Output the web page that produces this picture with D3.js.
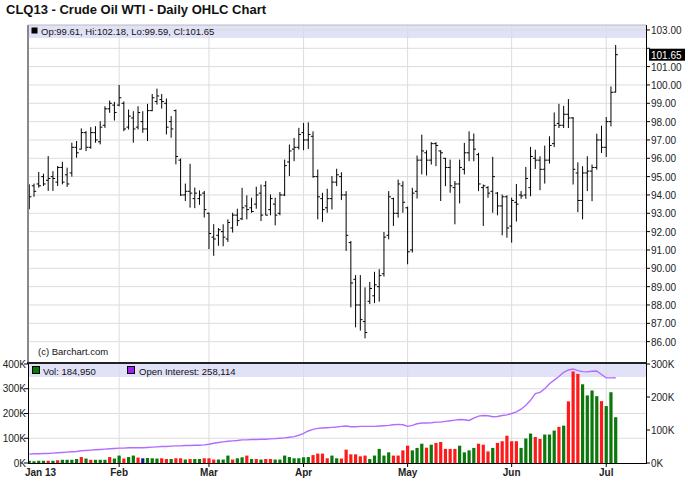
<!DOCTYPE html>
<html><head><meta charset="utf-8">
<script src="https://cdn.jsdelivr.net/npm/d3@7"></script>
<style>body{margin:0;background:#fff;} svg{display:block;font-family:"Liberation Sans",Arial,sans-serif;}</style>
</head><body><svg id="c" width="688" height="503"></svg>
<script>
// ---------- DATA ----------
const dates = [
"2013-01-04","2013-01-07","2013-01-08","2013-01-09","2013-01-10","2013-01-11","2013-01-14","2013-01-15","2013-01-16","2013-01-17","2013-01-18","2013-01-22","2013-01-23","2013-01-24","2013-01-25","2013-01-28","2013-01-29","2013-01-30","2013-01-31",
"2013-02-01","2013-02-04","2013-02-05","2013-02-06","2013-02-07","2013-02-08","2013-02-11","2013-02-12","2013-02-13","2013-02-14","2013-02-15","2013-02-19","2013-02-20","2013-02-21","2013-02-22","2013-02-25","2013-02-26","2013-02-27","2013-02-28",
"2013-03-01","2013-03-04","2013-03-05","2013-03-06","2013-03-07","2013-03-08","2013-03-11","2013-03-12","2013-03-13","2013-03-14","2013-03-15","2013-03-18","2013-03-19","2013-03-20","2013-03-21","2013-03-22","2013-03-25","2013-03-26","2013-03-27","2013-03-28",
"2013-04-01","2013-04-02","2013-04-03","2013-04-04","2013-04-05","2013-04-08","2013-04-09","2013-04-10","2013-04-11","2013-04-12","2013-04-15","2013-04-16","2013-04-17","2013-04-18","2013-04-19","2013-04-22","2013-04-23","2013-04-24","2013-04-25","2013-04-26","2013-04-29","2013-04-30",
"2013-05-01","2013-05-02","2013-05-03","2013-05-06","2013-05-07","2013-05-08","2013-05-09","2013-05-10","2013-05-13","2013-05-14","2013-05-15","2013-05-16","2013-05-17","2013-05-20","2013-05-21","2013-05-22","2013-05-23","2013-05-24","2013-05-28","2013-05-29","2013-05-30","2013-05-31",
"2013-06-03","2013-06-04","2013-06-05","2013-06-06","2013-06-07","2013-06-10","2013-06-11","2013-06-12","2013-06-13","2013-06-14","2013-06-17","2013-06-18","2013-06-19","2013-06-20","2013-06-21","2013-06-24","2013-06-25","2013-06-26","2013-06-27","2013-06-28",
"2013-07-01","2013-07-02","2013-07-03"];

const openP = [
93.4,94.5,94.6,95.0,94.8,95.0,94.7,95.5,95.1,95.2,
96.6,96.5,97.4,96.6,97.4,96.9,97.8,98.7,98.9,98.9,
99.0,97.7,98.2,97.7,98.0,97.6,98.6,99.1,99.2,99.0,
98.0,98.6,95.9,94.0,94.2,93.8,93.8,94.1,93.0,91.7,
91.8,92.0,91.6,92.2,92.9,92.7,93.4,93.3,93.5,94.1,
94.5,93.2,93.5,93.0,94.0,95.8,96.5,96.6,97.4,97.0,
97.2,95.0,93.8,93.3,93.8,94.7,95.0,94.0,91.4,89.4,
88.0,87.1,88.2,88.5,89.0,89.7,91.8,93.8,93.0,94.5,
93.3,91.0,94.2,95.9,96.3,95.9,96.8,96.4,96.0,95.5,
94.4,94.6,95.4,96.3,97.0,96.2,94.4,94.4,94.2,94.1,
93.4,93.9,92.3,93.6,94.0,94.0,94.4,96.0,95.9,95.4,
95.9,96.8,97.9,97.8,98.4,98.2,95.2,93.7,95.2,95.3,
95.5,97.0,96.6,98.0,99.61];
const highP = [
94.58,94.62,95.25,95.16,96.12,95.3,95.58,95.81,95.49,96.85,
96.94,97.63,97.48,97.7,97.75,98.02,98.84,99.15,99.08,100.0,
99.1,98.66,98.57,98.84,98.57,98.97,99.51,99.8,99.51,99.26,
98.3,98.66,95.99,94.62,95.7,94.4,94.25,94.22,93.04,92.41,
92.19,92.4,92.67,93.03,93.25,94.39,93.98,93.85,94.45,94.57,
94.76,94.03,93.85,94.16,95.93,96.75,97.11,97.66,97.93,97.96,
97.47,95.39,94.12,94.34,95.03,95.43,95.24,94.21,91.49,89.63,
89.63,88.96,89.26,89.81,89.95,91.98,94.21,93.85,94.84,94.75,
93.36,94.39,96.15,97.29,96.44,96.88,96.88,96.44,96.02,95.93,
94.76,95.93,96.84,97.47,97.35,96.3,94.57,94.48,96.08,94.16,
94.03,93.98,93.85,94.6,94.21,95.53,96.62,96.47,96.11,96.69,
97.2,98.5,98.97,98.86,99.23,98.25,95.78,95.57,96.11,95.66,
97.34,97.78,98.25,99.92,102.18];
const lowP = [
93.22,93.9,94.4,94.49,94.22,94.22,94.49,94.58,94.44,95.0,
96.03,96.48,96.39,96.52,96.85,96.76,97.66,98.48,98.06,98.84,
97.48,97.57,96.85,97.57,97.39,96.94,98.57,98.93,98.71,97.3,
97.12,95.67,93.95,93.67,93.31,93.28,93.46,92.77,91.05,90.68,
91.23,91.2,91.44,91.95,92.31,92.63,92.67,93.03,93.25,92.58,
92.89,92.89,92.34,92.89,93.94,95.03,95.84,96.48,96.44,96.51,
94.94,92.67,92.53,93.03,93.21,94.48,93.72,90.95,87.87,86.78,
86.6,86.18,88.05,88.1,88.18,89.55,91.58,92.31,92.76,93.03,
90.22,90.86,93.8,95.12,95.06,95.66,95.57,93.67,94.48,94.12,
92.4,93.54,95.12,95.84,95.84,94.21,92.31,93.85,93.03,92.89,
91.8,91.67,91.4,92.55,93.79,93.79,93.93,95.42,94.26,94.62,
95.71,96.62,97.65,97.65,97.65,94.57,93.06,92.67,94.21,93.66,
95.38,96.29,96.07,97.74,99.59];
const closeP = [
93.9,94.2,94.5,94.6,94.9,94.9,95.5,94.7,94.6,96.6,
96.3,97.4,96.6,97.4,97.0,97.7,98.7,99.0,98.5,99.3,
97.6,98.3,97.6,98.5,97.6,98.6,99.3,99.4,99.1,97.7,
97.6,96.1,94.0,94.2,94.1,94.1,94.0,93.2,91.9,91.6,
92.1,91.7,92.5,92.9,92.6,93.3,93.2,93.1,94.0,92.9,
92.9,93.8,92.9,94.0,95.6,96.4,96.6,97.3,97.0,97.3,
95.0,93.9,93.2,93.8,94.7,95.1,94.0,91.8,89.2,88.0,
87.2,86.5,88.9,89.1,89.6,91.7,93.9,93.0,94.6,93.6,
90.9,94.1,95.9,96.4,95.9,96.8,96.7,96.3,95.5,94.5,
94.6,95.5,96.3,97.0,96.5,94.6,94.5,94.1,95.0,93.4,
93.9,92.2,93.7,93.5,93.95,94.9,96.1,95.9,95.4,95.9,
96.7,97.8,97.8,98.4,98.2,95.4,93.7,95.2,95.3,95.5,
97.0,96.6,98.0,99.6,101.65];

// volume, thousands of contracts
const volumeK = [
9,7,9,9,9,9,11,13,13,13,16,24,18,13,13,13,13,24,18,
30,18,24,30,22,19,20,19,18,19,16,16,19,19,14,16,16,16,19,
19,14,14,14,30,14,19,23,30,16,16,14,16,16,14,14,30,24,19,19,
23,24,32,38,38,19,30,19,18,54,35,35,27,30,16,30,57,30,43,30,30,51,
70,51,61,78,62,74,81,85,57,57,57,70,43,51,61,78,74,47,61,81,88,110,
88,88,61,99,119,105,97,115,115,131,146,151,249,370,360,318,273,293,270,250,
230,286,184.95];
// g = up, r = down, n = unchanged
const volDir = ("ggggrgrggggrgrgggrg"+"grggrngggrrgrrgrggr"+"rrgggrggrgrgrrgggggg"+
  "ggrrrrggrrrrrrgggggrrr"+"rgggrgrrrrrggggrrrgrrr"+"rrgggrrgggrgrrrggggr"+"ggg").split("");
// open interest, thousands
const openInterestK = [
27,28,28,29,29,30,31,32,33,34,35,37,38,39,40,41,42,43,44,
45,45,46,46,46,46,47,48,49,50,50,51,52,52,53,53,54,54,55,
57,60,62,64,66,67,68,70,70,71,71,72,72,73,74,75,76,78,80,84,
90,97,102,105,106,107,108,109,111,112,110,110,111,111,111,111,112,113,114,116,117,116,
111,114,119,121,121,122,124,124,126,128,130,132,131,129,136,142,144,143,140,141,144,146,
150,155,163,175,190,210,214,225,240,251,262,275,282,285,280,277,276,278,279,268,
258,258,258.114];

const priceTicks = [86,87,88,89,90,91,92,93,94,95,96,97,98,99,100,101,102,103];
const volTicks = [0,100,200,300,400];
const oiTicks = [0,100,200,300];
const monthNames = ["Jan 13","Feb","Mar","Apr","May","Jun","Jul"];
const title = "CLQ13 - Crude Oil WTI - Daily OHLC Chart";

// ---------- LAYOUT ----------
const L = 28, R = 646, pTop = 25, pBot = 362, vTop = 364, vBot = 463;
const svg = d3.select("#c");
const x = d3.scaleLinear().domain([-0.27, 130.41]).range([L, R]);
const y = d3.scaleLinear().domain([84.89, 103.27]).range([pBot, pTop]);
const yv = d3.scaleLinear().domain([0, 400]).range([vBot, vTop]);
const yoi = d3.scaleLinear().domain([0, 300]).range([vBot, vTop]);
const idx = dates.map((d, i) => i);
const last = dates.length - 1;

svg.append("rect").attr("width", 688).attr("height", 503).attr("fill", "#fff");

const defs = svg.append("defs");
defs.append("clipPath").attr("id", "cp").append("rect").attr("x", L).attr("y", pTop).attr("width", R - L).attr("height", pBot - pTop);
defs.append("clipPath").attr("id", "cv").append("rect").attr("x", L).attr("y", vTop).attr("width", R - L).attr("height", vBot - vTop);

// title
svg.append("text").attr("x", 6).attr("y", 14).attr("font-size", 13).attr("font-weight", "bold").attr("fill", "#111").text(title);

// month starts
const monthStarts = [];
dates.forEach((d, i) => { if (i > 0 && d.slice(5, 7) !== dates[i - 1].slice(5, 7)) monthStarts.push(i); });

// ---------- PRICE PANEL ----------
const band = "#e1e1f8", grid = "#dcdcdc";
svg.append("rect").attr("x", L).attr("y", pTop).attr("width", R - L).attr("height", 13).attr("fill", band);
const gp = svg.append("g");
gp.selectAll("line.h").data(priceTicks).join("line")
  .attr("x1", L).attr("x2", R).attr("y1", d => y(d)).attr("y2", d => y(d))
  .attr("stroke", grid).attr("stroke-width", 1);
gp.selectAll("line.v").data(monthStarts).join("line")
  .attr("x1", d => x(d)).attr("x2", d => x(d)).attr("y1", pTop).attr("y2", pBot)
  .attr("stroke", grid).attr("stroke-width", 1);

const bars = svg.append("g").attr("clip-path", "url(#cp)").attr("stroke", "#000").attr("stroke-width", 1);
idx.forEach(i => {
  const cx = x(i);
  bars.append("line").attr("x1", cx).attr("x2", cx).attr("y1", y(highP[i])).attr("y2", y(lowP[i]));
  bars.append("line").attr("x1", cx - 2.2).attr("x2", cx).attr("y1", y(openP[i])).attr("y2", y(openP[i]));
  bars.append("line").attr("x1", cx).attr("x2", cx + 2.2).attr("y1", y(closeP[i])).attr("y2", y(closeP[i]));
});

// header legend
svg.append("rect").attr("x", 31.5).attr("y", 27.5).attr("width", 6).attr("height", 6).attr("fill", "#000");
svg.append("text").attr("x", 41).attr("y", 35).attr("font-size", 9.5).attr("fill", "#111")
  .text(`Op:${openP[last].toFixed(2)}, Hi:${highP[last].toFixed(2)}, Lo:${lowP[last].toFixed(2)}, Cl:${closeP[last].toFixed(2)}`);
svg.append("text").attr("x", 38).attr("y", 355).attr("font-size", 9.5).attr("fill", "#111").text("(c) Barchart.com");

// frame
svg.append("line").attr("x1", L).attr("x2", L).attr("y1", pTop).attr("y2", pBot).attr("stroke", "#888").attr("stroke-width", 2);
svg.append("line").attr("x1", L).attr("x2", R).attr("y1", pTop).attr("y2", pTop).attr("stroke", "#bbb").attr("stroke-width", 1);
svg.append("line").attr("x1", R + 0.5).attr("x2", R + 0.5).attr("y1", pTop).attr("y2", vBot).attr("stroke", "#000").attr("stroke-width", 1);
svg.append("line").attr("x1", L - 1).attr("x2", R + 1).attr("y1", pBot + 1).attr("y2", pBot + 1).attr("stroke", "#222").attr("stroke-width", 2);

// right price axis
const curY = y(closeP[last]);
const ra = svg.append("g");
ra.selectAll("line").data(priceTicks).join("line")
  .attr("x1", R).attr("x2", R + 4).attr("y1", d => y(d)).attr("y2", d => y(d)).attr("stroke", "#000");
ra.selectAll("text").data(priceTicks.filter(d => Math.abs(y(d) - curY) > 9)).join("text")
  .attr("x", R + 5).attr("y", d => y(d) + 4).attr("font-size", 10).attr("fill", "#222").text(d => d.toFixed(2));
svg.append("rect").attr("x", R + 3).attr("y", curY - 6).attr("width", 36).attr("height", 12).attr("fill", "#000");
svg.append("text").attr("x", R + 5).attr("y", curY + 4).attr("font-size", 10).attr("fill", "#fff").text(closeP[last].toFixed(2));

// ---------- VOLUME PANEL ----------
svg.append("rect").attr("x", L).attr("y", vTop).attr("width", R - L).attr("height", 13).attr("fill", band);
const gv = svg.append("g");
gv.selectAll("line.h").data(volTicks.slice(1, 4)).join("line")
  .attr("x1", L).attr("x2", R).attr("y1", d => yv(d)).attr("y2", d => yv(d)).attr("stroke", grid);
gv.selectAll("line.v").data(monthStarts).join("line")
  .attr("x1", d => x(d)).attr("x2", d => x(d)).attr("y1", vTop).attr("y2", vBot).attr("stroke", grid);

const colors = { g: "#0a780a", r: "#ff1a1a", n: "#1a1a90" };
const vb = svg.append("g").attr("clip-path", "url(#cv)");
vb.selectAll("rect").data(idx).join("rect")
  .attr("x", i => x(i) - 1.6).attr("width", 3.2)
  .attr("y", i => yv(volumeK[i])).attr("height", i => vBot - yv(volumeK[i]))
  .attr("fill", i => colors[volDir[i]]);

const oiLine = d3.line().x(i => x(i)).y(i => yoi(openInterestK[i]));
svg.append("path").attr("clip-path", "url(#cv)").attr("d", oiLine(idx))
  .attr("fill", "none").attr("stroke", "#b26cff").attr("stroke-width", 1.4);

// legend
svg.append("rect").attr("x", 32.5).attr("y", 366.5).attr("width", 7).attr("height", 7).attr("fill", colors.g).attr("stroke", "#000");
svg.append("text").attr("x", 43).attr("y", 374.5).attr("font-size", 9.5).attr("fill", "#111")
  .text("Vol: " + d3.format(",")(Math.round(volumeK[last] * 1000)));
svg.append("rect").attr("x", 127.5).attr("y", 366.5).attr("width", 7).attr("height", 7).attr("fill", "#a020f0").attr("stroke", "#000");
svg.append("text").attr("x", 139).attr("y", 374.5).attr("font-size", 9.5).attr("fill", "#111")
  .text("Open Interest: " + d3.format(",")(Math.round(openInterestK[last] * 1000)));

// frame
svg.append("line").attr("x1", L + 0.5).attr("x2", L + 0.5).attr("y1", vTop).attr("y2", vBot).attr("stroke", "#000");
svg.append("line").attr("x1", L).attr("x2", R + 1).attr("y1", vBot + 0.5).attr("y2", vBot + 0.5).attr("stroke", "#000");

// left volume axis
const la = svg.append("g");
la.selectAll("line").data(volTicks).join("line")
  .attr("x1", L - 4).attr("x2", L).attr("y1", d => yv(d)).attr("y2", d => yv(d)).attr("stroke", "#000");
la.selectAll("text").data(volTicks).join("text")
  .attr("x", L - 2).attr("y", d => yv(d) + 3.5).attr("text-anchor", "end").attr("font-size", 10).attr("fill", "#222")
  .text(d => d + "K");
// right OI axis
const ro = svg.append("g");
ro.selectAll("line").data(oiTicks).join("line")
  .attr("x1", R).attr("x2", R + 4).attr("y1", d => yoi(d)).attr("y2", d => yoi(d)).attr("stroke", "#000");
ro.selectAll("text").data(oiTicks).join("text")
  .attr("x", R + 5).attr("y", d => yoi(d) + 4).attr("font-size", 10).attr("fill", "#222")
  .text(d => d + "K");

// x axis labels
const xa = svg.append("g");
xa.selectAll("line").data(monthStarts).join("line")
  .attr("x1", d => x(d)).attr("x2", d => x(d)).attr("y1", vBot).attr("y2", vBot + 4).attr("stroke", "#000");
xa.append("text").attr("x", 25).attr("y", 476).attr("font-size", 10).attr("font-weight", "bold").attr("fill", "#222").text(monthNames[0]);
xa.selectAll("text.m").data(monthStarts).join("text").attr("class", "m")
  .attr("x", d => x(d)).attr("y", 476).attr("text-anchor", "middle").attr("font-size", 10).attr("font-weight", "bold").attr("fill", "#222")
  .text((d, k) => monthNames[k + 1]);
</script></body></html>
